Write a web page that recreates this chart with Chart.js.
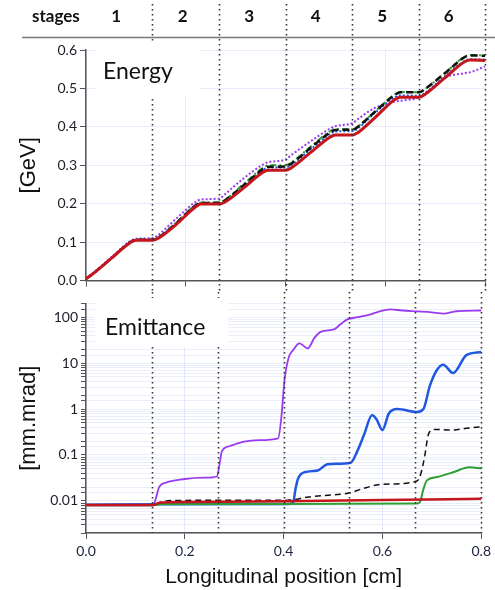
<!DOCTYPE html>
<html lang="en">
<head>
  <meta charset="UTF-8" />
  <title>Energy and Emittance per stage</title>
  <script src="https://cdn.jsdelivr.net/npm/chart.js@4.4.0/dist/chart.umd.min.js"></script>
  <style>
    body { margin: 0; background: #fff; }
    .wrap { position: relative; width: 495px; height: 590px; }
    .panel { position: absolute; left: 0; width: 495px; }
    #topPanel { top: 0; height: 292px; }
    #botPanel { top: 292px; height: 298px; }
  </style>
</head>
<body>
  <div class="wrap">
    <div class="panel" id="topPanel"><canvas id="energyChart"></canvas></div>
    <div class="panel" id="botPanel"><canvas id="emitChart"></canvas></div>
  </div>

  <script>
    // stage boundaries [cm] and labels
    const stageEdges = [0, 0.1333, 0.2667, 0.4, 0.5333, 0.6667, 0.8];
    const stageNames = ['1', '2', '3', '4', '5', '6'];

    // energy [GeV] on a shared x grid [cm]
    const energyX = [0, 0.01, 0.05, 0.09, 0.1, 0.135, 0.145, 0.18, 0.22, 0.23, 0.268, 0.278, 0.315, 0.355, 0.365,
      0.4, 0.41, 0.45, 0.49, 0.5, 0.535, 0.545, 0.58, 0.62, 0.63, 0.668, 0.678, 0.72, 0.76, 0.77, 0.8];
    const energyRed = [0.005, 0.014, 0.057, 0.100, 0.105, 0.105, 0.110, 0.145, 0.192, 0.199, 0.199, 0.204, 0.240, 0.282, 0.287,
      0.287, 0.292, 0.333, 0.374, 0.379, 0.379, 0.385, 0.425, 0.472, 0.477, 0.477, 0.483, 0.528, 0.570, 0.574, 0.573];
    const energyBlack = [0.005, 0.014, 0.057, 0.101, 0.106, 0.106, 0.112, 0.148, 0.196, 0.202, 0.202, 0.208, 0.247, 0.290, 0.296,
      0.297, 0.303, 0.345, 0.386, 0.392, 0.393, 0.400, 0.440, 0.484, 0.490, 0.490, 0.497, 0.540, 0.582, 0.586, 0.585];
    const energyGreen = [0.005, 0.014, 0.057, 0.101, 0.106, 0.107, 0.113, 0.150, 0.197, 0.203, 0.204, 0.210, 0.250, 0.294, 0.300,
      0.300, 0.306, 0.348, 0.389, 0.394, 0.394, 0.401, 0.441, 0.485, 0.491, 0.490, 0.497, 0.541, 0.583, 0.587, 0.586];
    const energyBlue = [0.005, 0.014, 0.057, 0.101, 0.106, 0.107, 0.112, 0.149, 0.195, 0.201, 0.201, 0.207, 0.245, 0.288, 0.294,
      0.294, 0.300, 0.341, 0.382, 0.388, 0.389, 0.396, 0.437, 0.478, 0.482, 0.481, 0.487, 0.532, 0.572, 0.576, 0.575];
    const energyPurple = [0.005, 0.015, 0.060, 0.104, 0.109, 0.111, 0.119, 0.160, 0.205, 0.211, 0.214, 0.224, 0.265, 0.302, 0.308,
      0.315, 0.325, 0.362, 0.396, 0.402, 0.410, 0.420, 0.450, 0.466, 0.468, 0.476, 0.483, 0.528, 0.540, 0.542, 0.557];

    // emittance [mm.mrad] as [x, value] pairs
    const emitPurple = [[0, 0.008], [0.136, 0.008], [0.142, 0.012], [0.148, 0.02], [0.162, 0.025], [0.2, 0.03], [0.24, 0.032],
      [0.265, 0.034], [0.27, 0.06], [0.275, 0.12], [0.29, 0.155], [0.32, 0.195], [0.35, 0.21], [0.389, 0.23], [0.395, 0.6],
      [0.402, 4.4], [0.41, 13], [0.419, 19], [0.432, 27], [0.449, 21], [0.462, 35], [0.475, 48], [0.503, 55], [0.515, 70],
      [0.529, 90], [0.55, 100], [0.576, 115], [0.585, 125], [0.616, 148], [0.64, 140], [0.67, 134], [0.7, 128], [0.723, 120],
      [0.75, 135], [0.8, 140]];
    const emitBlue = [[0, 0.0082], [0.15, 0.0085], [0.41, 0.0086], [0.419, 0.009], [0.424, 0.018], [0.429, 0.03], [0.442, 0.042],
      [0.469, 0.046], [0.489, 0.063], [0.536, 0.068], [0.549, 0.12], [0.563, 0.28], [0.579, 0.73], [0.588, 0.6], [0.6, 0.35],
      [0.613, 0.8], [0.63, 1.0], [0.67, 0.86], [0.683, 1.0], [0.696, 3.2], [0.71, 7], [0.723, 9.2], [0.743, 6.1], [0.77, 15],
      [0.8, 17.5]];
    const emitBlack = [[0, 0.008], [0.135, 0.008], [0.15, 0.0092], [0.17, 0.0102], [0.3, 0.0103], [0.41, 0.0104], [0.45, 0.0122],
      [0.5, 0.0135], [0.535, 0.015], [0.56, 0.0185], [0.6, 0.023], [0.67, 0.027], [0.678, 0.04], [0.686, 0.1], [0.693, 0.28],
      [0.705, 0.36], [0.74, 0.35], [0.77, 0.38], [0.8, 0.41]];
    const emitGreen = [[0, 0.008], [0.135, 0.008], [0.15, 0.0085], [0.4, 0.0086], [0.67, 0.0088], [0.676, 0.0095], [0.683, 0.018],
      [0.69, 0.028], [0.71, 0.033], [0.743, 0.042], [0.776, 0.054], [0.8, 0.051]];
    const emitRed = [[0, 0.0081], [0.135, 0.0081], [0.15, 0.0092], [0.2, 0.0095], [0.4, 0.0098], [0.6, 0.0104], [0.8, 0.0112]];

    const RED = '#c4161c', BLACK = '#111111', GREEN = '#2e9e35', BLUE = '#2058e0', PURPLE = '#9a3bf0';
    const GRID = 'rgba(175, 188, 238, 0.3)';
    const GRID_LOG = 'rgba(175, 188, 238, 0.25)';
    const AXIS = '#555555';

    Chart.defaults.font.family = 'Lato, sans-serif';
    Chart.defaults.color = '#1d1d28';
    Chart.defaults.animation = false;

    // dotted stage separators, white label box and panel label
    const stagePlugin = {
      id: 'stages',
      afterDraw(chart, args, opts) {
        const ctx = chart.ctx;
        const xs = chart.scales.x;
        ctx.save();
        ctx.strokeStyle = '#333';
        ctx.lineWidth = 1.6;
        ctx.setLineDash([1.5, 3.5]);
        for (let i = 1; i < stageEdges.length; i++) {
          const px = Math.round(xs.getPixelForValue(stageEdges[i])) + 0.5;
          ctx.beginPath();
          ctx.moveTo(px, opts.lineTop);
          ctx.lineTo(px, opts.lineBottom === 'area' ? chart.chartArea.bottom : chart.height);
          ctx.stroke();
        }
        ctx.setLineDash([]);

        if (opts.header) {
          ctx.strokeStyle = '#777';
          ctx.lineWidth = 1.5;
          ctx.beginPath();
          ctx.moveTo(22, 37.5);
          ctx.lineTo(chart.width, 37.5);
          ctx.stroke();
          ctx.fillStyle = '#111';
          ctx.font = 'bold 17px Lato';
          ctx.textBaseline = 'middle';
          ctx.textAlign = 'left';
          ctx.fillText('stages', 32, 17);
          ctx.textAlign = 'center';
          for (let i = 0; i < stageNames.length; i++) {
            const c = (stageEdges[i] + stageEdges[i + 1]) / 2;
            ctx.fillText(stageNames[i], xs.getPixelForValue(c) - 3, 17);
          }
        }

        const b = opts.box;
        ctx.fillStyle = '#fff';
        ctx.fillRect(b[0], b[1], b[2], b[3]);
        ctx.fillStyle = '#111';
        ctx.font = '23px Lato';
        ctx.textAlign = 'left';
        ctx.textBaseline = 'middle';
        ctx.fillText(opts.label, opts.labelPos[0], opts.labelPos[1]);
        ctx.restore();
      }
    };

    function yTitle(text) {
      return { display: true, text: text, color: '#111', padding: { top: 16, bottom: 0 },
        font: { family: "'Liberation Sans', Arial, sans-serif", size: 22 } };
    }

    function line(label, data, color, width, dash) {
      return { label, data, borderColor: color, backgroundColor: color, borderWidth: width,
        borderDash: dash || [], pointRadius: 0, cubicInterpolationMode: 'monotone', fill: false };
    }

    const energyPts = arr => arr.map((v, i) => ({ x: energyX[i], y: v }));
    const emitPts = arr => arr.map(p => ({ x: p[0], y: p[1] }));

    new Chart(document.getElementById('energyChart'), {
      type: 'line',
      data: {
        datasets: [
          line('red', energyPts(energyRed), RED, 3),
          line('black', energyPts(energyBlack), BLACK, 2.5, [7, 4]),
          line('green', energyPts(energyGreen), GREEN, 2, [6, 3, 2, 3]),
          line('blue', energyPts(energyBlue), BLUE, 2, [2, 2]),
          line('purple', energyPts(energyPurple), PURPLE, 2, [2, 2])
        ]
      },
      options: {
        responsive: true,
        maintainAspectRatio: false,
        layout: { padding: { top: 50, right: 10, left: 0, bottom: 0 } },
        plugins: {
          legend: { display: false },
          tooltip: { enabled: false },
          stages: { lineTop: 4, lineBottom: 'canvas', header: true,
            box: [95, 42, 105, 55], label: 'Energy', labelPos: [103, 72] }
        },
        scales: {
          x: {
            type: 'linear', min: 0, max: 0.8,
            ticks: { display: false, stepSize: 0.2 },
            grid: { color: GRID, tickColor: AXIS, tickLength: 6 },
            border: { color: AXIS, width: 1.5 },
            afterFit: s => { s.height = 6; }
          },
          y: {
            min: 0, max: 0.6,
            ticks: { stepSize: 0.1, padding: 3, font: { size: 14 }, callback: v => v.toFixed(1) },
            grid: { color: GRID, tickColor: AXIS, tickLength: 6 },
            border: { color: AXIS, width: 1.5 },
            title: yTitle('[GeV]'),
            afterFit: s => { s.width = 86; }
          }
        }
      },
      plugins: [stagePlugin]
    });

    const isDecade = v => Math.abs(Math.log10(v) - Math.round(Math.log10(v))) < 1e-6;

    new Chart(document.getElementById('emitChart'), {
      type: 'line',
      data: {
        datasets: [
          line('red', emitPts(emitRed), RED, 2.5),
          line('black', emitPts(emitBlack), BLACK, 1.5, [6, 4]),
          line('green', emitPts(emitGreen), GREEN, 2),
          line('blue', emitPts(emitBlue), BLUE, 2.5),
          line('purple', emitPts(emitPurple), PURPLE, 1.8)
        ]
      },
      options: {
        responsive: true,
        maintainAspectRatio: false,
        layout: { padding: { top: 6, right: 10, left: 0, bottom: 0 } },
        plugins: {
          legend: { display: false },
          tooltip: { enabled: false },
          stages: { lineTop: 0, lineBottom: 'area', header: false,
            box: [95, 6, 133, 49], label: 'Emittance', labelPos: [105, 36] }
        },
        scales: {
          x: {
            type: 'linear', min: 0, max: 0.8,
            ticks: { stepSize: 0.2, padding: 4, font: { size: 14 }, color: '#1c2440', callback: v => v.toFixed(1) },
            grid: { color: GRID, tickColor: AXIS, tickLength: 6 },
            border: { color: AXIS, width: 1.5 },
            title: { display: true, text: 'Longitudinal position [cm]', color: '#111', padding: { top: 0, bottom: 0 },
              font: { family: "'Liberation Sans', Arial, sans-serif", size: 21 } },
            afterFit: s => { s.height = 57; }
          },
          y: {
            type: 'logarithmic', min: 0.002, max: 200,
            ticks: {
              autoSkip: false, padding: 3, font: { size: 14 },
              callback: v => (isDecade(v) && v >= 0.01 ? String(+v.toPrecision(1)) : '')
            },
            grid: { color: GRID_LOG, tickColor: AXIS, tickLength: 5 },
            border: { color: AXIS, width: 1.5 },
            title: yTitle('[mm.mrad]'),
            afterFit: s => { s.width = 86; }
          }
        }
      },
      plugins: [stagePlugin]
    });
  </script>
</body>
</html>
